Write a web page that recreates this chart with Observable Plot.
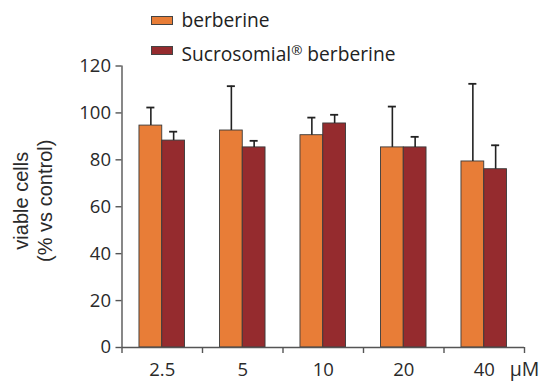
<!DOCTYPE html>
<html>
<head>
<meta charset="utf-8">
<script src="https://cdn.jsdelivr.net/npm/d3@7"></script>
<script src="https://cdn.jsdelivr.net/npm/@observablehq/plot@0.6"></script>
<style>
  html, body { margin: 0; padding: 0; background: #fff; }
  #wrap { position: relative; width: 550px; height: 387px; overflow: hidden; }
  #legend { position: absolute; left: 151px; top: 0; font-family: "Open Sans", sans-serif; font-size: 19.2px; color: #222; }
  .item { position: absolute; left: 0; white-space: nowrap; height: 24px; line-height: 24px; }
  .sw { position: absolute; left: 0; top: 8px; width: 20px; height: 7px; border: 1px solid #444; }
  .lab { position: absolute; left: 30.5px; top: 0; }
  .reg { font-size: 0.7em; vertical-align: 0.45em; }
</style>
</head>
<body>
<div id="wrap">
  <div id="chart"></div>
  <div id="legend"></div>
</div>
<script>
const categories = ["2.5", "5", "10", "20", "40"];
const seriesNames = ["berberine", "Sucrosomial® berberine"];
const seriesColors = ["#E87D37", "#952B2E"];
const berberine = [94.6, 92.5, 90.5, 85.3, 79.3];
const berberineErr = [7.7, 18.9, 7.5, 17.4, 33.1];
const sucrosomial = [88.2, 85.3, 95.5, 85.3, 76.0];
const sucrosomialErr = [3.8, 2.8, 3.7, 4.5, 10.2];
const yTicks = [0, 20, 40, 60, 80, 100, 120];
const unitLabel = "μM";
const yTitle = "viable cells\n(% vs control)";

const half = 0.283;   // bar width in band units
const cap = 0.05;     // half cap width in band units

const rows = [];
categories.forEach((c, i) => {
  rows.push({cat: i, series: 0, value: berberine[i], err: berberineErr[i]});
  rows.push({cat: i, series: 1, value: sucrosomial[i], err: sucrosomialErr[i]});
});
const x1 = d => d.series === 0 ? d.cat + 0.5 - half : d.cat + 0.5;
const x2 = d => d.series === 0 ? d.cat + 0.5 : d.cat + 0.5 + half;
const xc = d => (x1(d) + x2(d)) / 2;

const plot = Plot.plot({
  width: 550,
  height: 387,
  marginLeft: 121.5,
  marginRight: 26,
  marginTop: 65.5,
  marginBottom: 40,
  style: {fontFamily: "Open Sans, sans-serif", fontSize: "18px", color: "#2a2a2a", background: "white"},
  x: {type: "linear", domain: [0, categories.length]},
  y: {domain: [0, 120]},
  marks: [
    Plot.rectY(rows, {x1, x2, y1: 0, y2: "value", fill: d => seriesColors[d.series], stroke: "#3a3a3a", strokeWidth: 0.9}),
    Plot.ruleX(rows, {x: xc, y1: "value", y2: d => d.value + d.err, stroke: "#222", strokeWidth: 1.6}),
    Plot.ruleY(rows, {y: d => d.value + d.err, x1: d => xc(d) - cap, x2: d => xc(d) + cap, stroke: "#222", strokeWidth: 1.8}),
    Plot.ruleX([0], {y1: 0, y2: 120, stroke: "#555", strokeWidth: 1.4}),
    Plot.ruleY([0], {x1: 0, x2: categories.length, stroke: "#555", strokeWidth: 1.4}),
    Plot.axisY({ticks: yTicks, tickSize: 6, tickPadding: 5, label: null, stroke: "#555", strokeWidth: 1.4, fontSize: 18.5}),
    Plot.axisX({ticks: d3.range(categories.length + 1), tickSize: 6, tickFormat: () => "", label: null, stroke: "#555", strokeWidth: 1.4}),
    Plot.axisX({ticks: categories.map((c, i) => i + 0.5), tickSize: 0, tickPadding: 15, tickFormat: v => categories[Math.floor(v)], label: null, fontSize: 18.5}),
    Plot.text([unitLabel], {x: categories.length, y: 0, dy: 15, lineAnchor: "top", textAnchor: "middle", fontSize: 19.5, fill: "#2a2a2a"}),
    Plot.text([yTitle], {frameAnchor: "left", rotate: -90, dx: -90, dy: -6, lineAnchor: "middle", textAnchor: "middle", lineHeight: 1.22, fontSize: 20, fontFamily: "Liberation Sans, Arial, sans-serif", fill: "#2a2a2a"})
  ]
});
document.getElementById("chart").appendChild(plot);

const legend = document.getElementById("legend");
seriesNames.forEach((name, i) => {
  const item = document.createElement("div");
  item.className = "item";
  item.style.top = (8 + i * 29.5) + "px";
  const sw = document.createElement("div");
  sw.className = "sw";
  sw.style.background = seriesColors[i];
  const lab = document.createElement("span");
  lab.className = "lab";
  const parts = name.split("®");
  lab.appendChild(document.createTextNode(parts[0]));
  if (parts.length > 1) {
    const r = document.createElement("span");
    r.className = "reg";
    r.textContent = "®";
    lab.appendChild(r);
    lab.appendChild(document.createTextNode(parts[1]));
  }
  item.appendChild(sw);
  item.appendChild(lab);
  legend.appendChild(item);
});
</script>
</body>
</html>
